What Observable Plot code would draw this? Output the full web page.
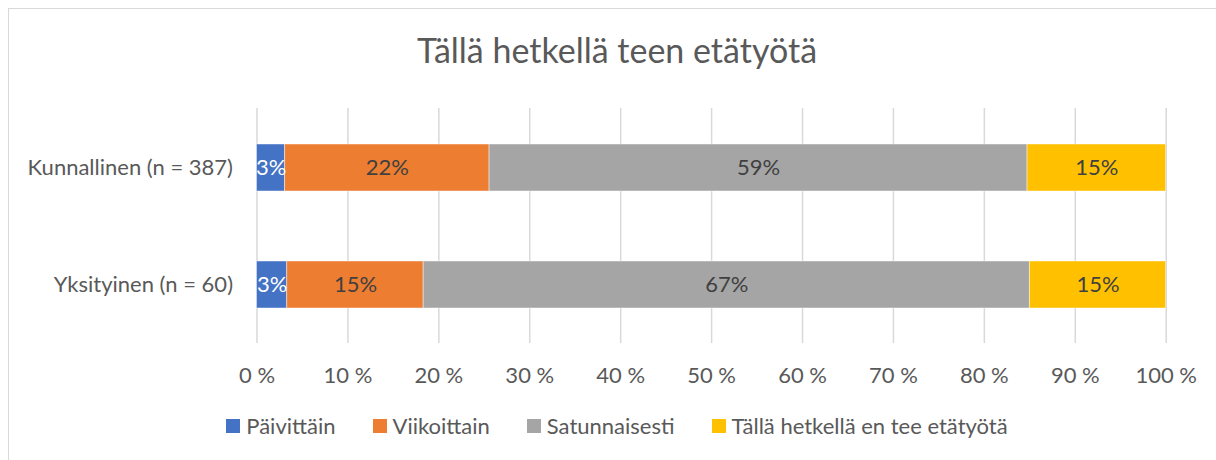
<!DOCTYPE html>
<html>
<head>
<meta charset="utf-8">
<script src="https://cdn.jsdelivr.net/npm/d3@7"></script>
<script src="https://cdn.jsdelivr.net/npm/@observablehq/plot@0.6"></script>
<style>
  html, body { margin: 0; padding: 0; background: #ffffff; }
  body { width: 1216px; height: 460px; position: relative; overflow: hidden; font-family: Lato, "Open Sans", sans-serif; }
  #frame { position: absolute; left: 8px; top: 8px; width: 1260px; height: 520px; border: 1.5px solid #d9d9d9; box-sizing: border-box; }
  #title { position: absolute; left: 0; width: 1234px; top: 30px; text-align: center; font-size: 34px; line-height: 1.2; color: #595959; white-space: nowrap; }
  #chart { position: absolute; left: 0; top: 95px; }
  #legend { position: absolute; left: 0; width: 1234px; top: 413px; display: flex; justify-content: center; align-items: center; font-size: 22px; line-height: 1.2; color: #595959; white-space: nowrap; }
  .item { display: flex; align-items: center; margin: 0 18.5px; }
  .sw { width: 14px; height: 14px; margin-right: 6px; }
</style>
</head>
<body>
<div id="frame"></div>
<div id="title">Tällä hetkellä teen etätyötä</div>
<div id="chart"></div>
<div id="legend"></div>
<script>
// ---- data ----
const groups = ["Kunnallinen (n = 387)", "Yksityinen (n = 60)"];
const categories = ["Päivittäin", "Viikoittain", "Satunnaisesti", "Tällä hetkellä en tee etätyötä"];
const kunnallinen = [3.10, 22.48, 59.17, 15.25];
const yksityinen = [3.33, 15.00, 66.67, 15.00];
const xTicks = [0, 10, 20, 30, 40, 50, 60, 70, 80, 90, 100];
const colors = ["#4472C4", "#ED7D31", "#A5A5A5", "#FFC000"];

const seriesByGroup = [kunnallinen, yksityinen];
const data = [];
groups.forEach((g, gi) => {
  categories.forEach((c, ci) => {
    data.push({group: g, category: c, value: seriesByGroup[gi][ci]});
  });
});

const labelText = d => Math.round(d.value) + "%";
const stackOpts = extra => Plot.stackX({x: "value", y: "group", ...extra});

const chart = Plot.plot({
  width: 1216,
  height: 300,
  marginLeft: 256.5,
  marginRight: 50.3,
  marginTop: 13,
  marginBottom: 52,
  style: {fontFamily: "Lato, 'Open Sans', sans-serif", fontSize: "22px", color: "#595959", background: "transparent", overflow: "visible"},
  x: {domain: [0, 100], ticks: xTicks, tickFormat: d => d + " %", tickSize: 0, tickPadding: 24, label: null},
  y: {domain: groups, paddingInner: 0.6, paddingOuter: 0.3, tickSize: 0, tickPadding: 24, label: null},
  color: {domain: categories, range: colors},
  marks: [
    Plot.gridX(xTicks, {stroke: "#d9d9d9", strokeOpacity: 1, strokeWidth: 1.5}),
    Plot.barX(data, stackOpts({fill: "category", stroke: "#ffffff", strokeWidth: 0.75, strokeOpacity: 0.6})),
    Plot.text(data, Plot.filter(d => d.category === categories[0], stackOpts({text: labelText, fill: "#ffffff", fontSize: 22}))),
    Plot.text(data, Plot.filter(d => d.category !== categories[0], stackOpts({text: labelText, fill: "#404040", fontSize: 22})))
  ]
});
document.getElementById("chart").appendChild(chart);

const legend = document.getElementById("legend");
categories.forEach((c, i) => {
  const item = document.createElement("div");
  item.className = "item";
  const sw = document.createElement("div");
  sw.className = "sw";
  sw.style.background = colors[i];
  const t = document.createElement("span");
  t.textContent = c;
  item.appendChild(sw);
  item.appendChild(t);
  legend.appendChild(item);
});
</script>
</body>
</html>
